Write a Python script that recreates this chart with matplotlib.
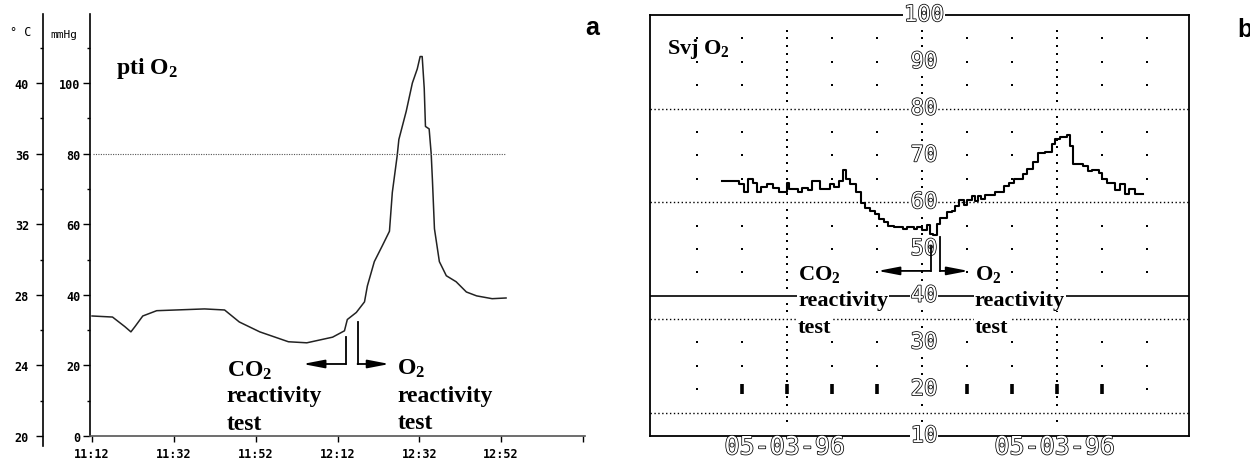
import numpy as np
import matplotlib.pyplot as plt
import matplotlib.patheffects as pe

plt.rcParams['mathtext.fontset'] = 'custom'
plt.rcParams['mathtext.rm'] = 'Liberation Serif:bold'
plt.rcParams['mathtext.default'] = 'rm'

# panel a: pti O2 (minutes after 11:12, mmHg)
pti_min = [0, 5, 8, 9.5, 10.5, 12.4, 15.8, 27.5, 32.4, 36, 41, 48, 52.5, 58.8,
           61.7, 62.4, 64.6, 66.6, 67.3, 69, 71, 72.7, 73.4, 74.6, 75, 76.8,
           78.3, 79.5, 80.2, 80.7, 81.2, 81.5, 82.4, 82.9, 83.2, 83.7, 84.9,
           86.6, 89, 91.5, 94, 97.8, 101.2]
pti_mmhg = [34, 33.7, 31, 29.5, 31, 34, 35.5, 36, 35.7, 32.3, 29.5, 26.7, 26.4,
            28, 29.8, 33, 35, 38, 42.5, 49.4, 54, 58, 69, 79.5, 84, 92, 100,
            104, 107.5, 107.5, 98.5, 87.7, 87, 80, 72.6, 58.7, 49.4, 45.4, 43.7,
            40.8, 39.7, 38.9, 39.1]
time_ticks = [0, 20, 40, 60, 80, 100, 120]
time_labels = ['11:12', '11:32', '11:52', '12:12', '12:32', '12:52', '']
mmhg_ticks = [0, 20, 40, 60, 80, 100]
degc_ticks = [20, 24, 28, 32, 36, 40]

# panel b: Svj O2 step trace (grid-column units, %)
svj_x = [1.56, 1.93, 2.04, 2.13, 2.26, 2.33, 2.43, 2.56, 2.70, 2.82, 3.00, 3.05,
         3.26, 3.33, 3.48, 3.56, 3.74, 3.96, 4.04, 4.15, 4.24, 4.32, 4.41, 4.53,
         4.64, 4.74, 4.85, 4.96, 5.04, 5.15, 5.26, 5.39, 5.59, 5.67, 5.82, 5.89,
         6.00, 6.11, 6.18, 6.26, 6.33, 6.41, 6.56, 6.67, 6.74, 6.83, 6.93, 7.00,
         7.11, 7.18, 7.26, 7.32, 7.41, 7.63, 7.82, 7.93, 8.04, 8.26, 8.33, 8.48,
         8.59, 8.74, 8.89, 8.96, 9.07, 9.22, 9.30, 9.37, 9.59, 9.70, 9.78, 9.93,
         10.00, 10.11, 10.29, 10.40, 10.51, 10.60, 10.73, 10.91]
svj_v = [64.6, 63.8, 62.1, 64.9, 64.2, 62.1, 63.3, 63.8, 63.1, 62.1, 64.2, 62.9,
         62.1, 63.1, 62.5, 64.6, 62.9, 63.8, 63.3, 64.6, 66.9, 64.9, 63.8, 62.1,
         59.9, 58.8, 58.1, 57.4, 56.4, 55.7, 54.9, 54.6, 54.2, 54.6, 54.2, 54.6,
         54.1, 55.1, 53.2, 53.0, 55.3, 56.7, 57.8, 58.1, 59.2, 60.5, 59.5, 60.5,
         61.3, 60.3, 61.3, 60.6, 61.5, 62.1, 63.5, 64.2, 65.0, 66.0, 67.0, 68.5,
         70.6, 70.7, 72.4, 73.5, 74.0, 74.3, 72.0, 68.1, 67.7, 66.7, 66.9, 66.2,
         64.9, 64.2, 62.5, 63.8, 61.7, 62.8, 61.7, 61.7]
grid_cols = np.arange(1, 12)
dense_cols = [3, 6, 9]
dot_rows = [95, 90, 85, 75, 70, 65, 55, 50, 45, 30, 25, 20]
dotted_rows = [80, 60, 35, 15]
solid_row = 40
bar_cols = [2, 3, 4, 5, 7, 8, 9, 10]
svj_labels = [100, 90, 80, 70, 60, 50, 40, 30, 20, 10]
date_label = '05-03-96'
date_cols = [3, 9]

serif = 'Liberation Serif'
mono = 'DejaVu Sans Mono'

fig = plt.figure(figsize=(12.5, 4.6), dpi=100)

# ---------------- panel a ----------------
ax = fig.add_axes([0.072, 0.05, 0.396, 0.917])
ax.plot(pti_min, pti_mmhg, color='#222222', lw=1.1)
ax.plot([0.2, 101.2], [80, 80], color='#555555', lw=0.8, linestyle=(0, (1, 1.2)))
ax.set_xlim(-0.5, 120.5)
ax.set_ylim(0, 119.5)
for s in ['top', 'right']:
    ax.spines[s].set_visible(False)
ax.spines['left'].set_linewidth(1.2)
ax.spines['bottom'].set_linewidth(1.2)
ax.spines['bottom'].set_color('#555555')
ax.set_xticks(time_ticks)
ax.set_xticklabels(time_labels, fontfamily=mono, fontweight='bold', fontsize=8.5)
ax.set_yticks(mmhg_ticks)
ax.set_yticklabels([str(t) for t in mmhg_ticks], fontfamily=mono, fontweight='bold', fontsize=8.5)
ax.set_yticks(np.arange(10, 120, 20), minor=True)
ax.tick_params(axis='y', direction='out', length=5, width=1, pad=2)
ax.tick_params(axis='y', which='minor', length=2.5, width=1)
ax.tick_params(axis='x', direction='out', length=4, width=1, pad=4)

ax2 = ax.twinx()
ax2.set_ylim(20, 20 + 119.5 * 0.2)
ax2.spines['right'].set_visible(False)
ax2.spines['top'].set_visible(False)
ax2.spines['bottom'].set_visible(False)
ax2.spines['left'].set_position(('axes', -0.095))
ax2.spines['left'].set_bounds(19.43, 20 + 119.5 * 0.2)
ax2.spines['left'].set_linewidth(1.2)
ax2.yaxis.set_ticks_position('left')
ax2.yaxis.set_label_position('left')
ax2.set_yticks(degc_ticks)
ax2.set_yticklabels([str(t) for t in degc_ticks], fontfamily=mono, fontweight='bold', fontsize=8.5)
ax2.set_yticks(np.arange(22, 44, 4), minor=True)
ax2.tick_params(axis='y', direction='out', length=5, width=1, pad=5)
ax2.tick_params(axis='y', which='minor', length=2.5, width=1)

fig.text(10 / 1250, 1 - 33 / 460, '° C', fontfamily=mono, fontsize=8.5, va='center')
fig.text(50 / 1250, 1 - 35 / 460, 'mmHg', fontfamily=mono, fontsize=8, va='center')

ax.text(5.9, 104.5, 'pti O$_2$', fontfamily=serif, fontweight='bold', fontsize=17, va='center')

lines_a = ['CO$_2$', 'reactivity', 'test']
for txt, yb in zip(lines_a, [17.0, 9.9, 2.0]):
    ax.text(32.9, yb, txt, fontfamily=serif, fontweight='bold', fontsize=17, va='baseline')
lines_a2 = ['O$_2$', 'reactivity', 'test']
for txt, yb in zip(lines_a2, [17.6, 9.9, 2.2]):
    ax.text(74.6, yb, txt, fontfamily=serif, fontweight='bold', fontsize=17, va='baseline')

ax.plot([62, 62], [28, 20.4], color='k', lw=1.3)
ax.annotate('', xy=(51.5, 20.4), xytext=(62, 20.4),
            arrowprops=dict(arrowstyle='-|>,head_length=1.3,head_width=0.25', lw=1.3,
                            color='k', shrinkA=0, shrinkB=0))
ax.plot([64.9, 64.9], [32.3, 20.4], color='k', lw=1.3)
ax.annotate('', xy=(72.7, 20.4), xytext=(64.9, 20.4),
            arrowprops=dict(arrowstyle='-|>,head_length=1.3,head_width=0.25', lw=1.3,
                            color='k', shrinkA=0, shrinkB=0))

fig.text(585 / 1250, 1 - 28 / 460, 'a', fontfamily='Liberation Sans', fontweight='bold',
         fontsize=18, va='center')

# ---------------- panel b ----------------
bx = fig.add_axes([0.52, 0.05, 0.4312, 0.915])
bx.set_xlim(-0.04, 11.94)
bx.set_ylim(10, 100)
bx.set_xticks([])
bx.set_yticks([])
for s in bx.spines.values():
    s.set_linewidth(1.3)

for r in dotted_rows:
    bx.axhline(r, color='k', lw=1.0, linestyle=(0, (1, 1.8)), zorder=1)
bx.axhline(solid_row, color='k', lw=1.2, zorder=1)

for c in grid_cols:
    ys = []
    if c in dense_cols:
        for r in range(15, 100, 5):
            ys += [r - 1.7, r, r + 1.7]
    else:
        ys = [r for r in dot_rows if not (r == 20 and c in bar_cols)]
    ys = [y for y in ys if y not in dotted_rows and y != solid_row]
    bx.plot([c] * len(ys), ys, linestyle='none', marker='s', ms=1.6, color='k', mew=0, zorder=1)
for c in bar_cols:
    bx.plot([c, c], [19, 21.2], color='k', lw=2.6, solid_capstyle='butt', zorder=1)

bx.step(svj_x, svj_v, where='post', color='k', lw=1.5, zorder=3)

hollow = [pe.withStroke(linewidth=1.1, foreground='black')]
for v in svj_labels:
    bx.text(6.05, v, str(v), fontfamily=mono, fontsize=16, color='white', ha='center',
            va='center', path_effects=hollow, clip_on=False, zorder=4,
            bbox=dict(facecolor='white', edgecolor='none', pad=0.5))
for c in date_cols:
    bx.text(c - 0.05, 7.6, date_label, fontfamily=mono, fontsize=18, color='white',
            ha='center', va='center', path_effects=hollow, clip_on=False)

bx.text(0.33, 92.9, 'Svj O$_2$', fontfamily=serif, fontweight='bold', fontsize=16,
        va='center', zorder=5)
box = dict(facecolor='white', edgecolor='none', pad=1)
for txt, yb in zip(lines_a, [43.5, 38.0, 32.2]):
    bx.text(3.25, yb, txt, fontfamily=serif, fontweight='bold', fontsize=16,
            va='baseline', bbox=box, zorder=5)
for txt, yb in zip(lines_a2, [43.5, 38.0, 32.2]):
    bx.text(7.18, yb, txt, fontfamily=serif, fontweight='bold', fontsize=16,
            va='baseline', bbox=box, zorder=5)

bx.plot([6.2, 6.2], [50.6, 45.3], color='k', lw=1.3, zorder=6)
bx.annotate('', xy=(5.02, 45.3), xytext=(6.2, 45.3),
            arrowprops=dict(arrowstyle='-|>,head_length=1.3,head_width=0.25', lw=1.3,
                            color='k', shrinkA=0, shrinkB=0), zorder=6)
bx.plot([6.4, 6.4], [52.5, 45.3], color='k', lw=1.3, zorder=6)
bx.annotate('', xy=(7.04, 45.3), xytext=(6.4, 45.3),
            arrowprops=dict(arrowstyle='-|>,head_length=1.3,head_width=0.25', lw=1.3,
                            color='k', shrinkA=0, shrinkB=0), zorder=6)

fig.text(1237 / 1250, 1 - 30 / 460, 'b', fontfamily='Liberation Sans', fontweight='bold',
         fontsize=18, va='center')

fig.savefig('out.png', dpi=100)
